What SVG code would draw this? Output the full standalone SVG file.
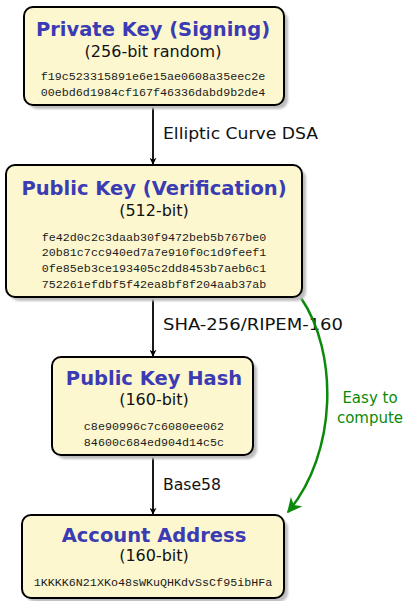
<svg xmlns="http://www.w3.org/2000/svg" width="407" height="601" viewBox="0 0 407 601">
  <style>
    .box { fill: #fdf7cf; stroke: #000; stroke-width: 2; }
    .shadow { fill: #bdbdbd; }
    .title { font-family: "DejaVu Sans", "Liberation Sans", sans-serif; font-weight: bold; font-size: 19.5px; fill: #3b3bb3; text-anchor: middle; }
    .sub { font-family: "DejaVu Sans", "Liberation Sans", sans-serif; font-size: 16px; fill: #111; text-anchor: middle; }
    .hex { font-family: "Liberation Mono", "DejaVu Sans Mono", monospace; font-size: 11.7px; fill: #1a1a1a; text-anchor: middle; }
    .lbl { font-family: "DejaVu Sans", "Liberation Sans", sans-serif; font-size: 16px; fill: #111; }
    .glbl { font-family: "DejaVu Sans", "Liberation Sans", sans-serif; font-size: 15px; fill: #0a8a0a; text-anchor: middle; }
    .edge { stroke: #000; stroke-width: 1.8; fill: none; }
    .green { stroke: #0a8a0a; stroke-width: 2.5; fill: none; }
  </style>
  <defs>
    <filter id="soft" x="-10%" y="-10%" width="120%" height="120%">
      <feGaussianBlur stdDeviation="1"/>
    </filter>
    <marker id="arrow" viewBox="0 0 10 10" refX="9" refY="5" markerWidth="7" markerHeight="7" markerUnits="userSpaceOnUse" orient="auto">
      <path d="M0,0 L10,5 L0,10 L3,5 Z" fill="#000"/>
    </marker>
    <marker id="garrow" viewBox="0 0 10 10" refX="9" refY="5" markerWidth="6" markerHeight="6" orient="auto">
      <path d="M0,0 L10,5 L0,10 L3,5 Z" fill="#0a8a0a"/>
    </marker>
  </defs>

  <g id="connectors">
    <line class="edge" x1="153" y1="105" x2="153" y2="164" marker-end="url(#arrow)"/>
    <text class="lbl" x="163" y="139" textLength="155" lengthAdjust="spacingAndGlyphs">Elliptic Curve DSA</text>
    <line class="edge" x1="153" y1="297" x2="153" y2="356" marker-end="url(#arrow)"/>
    <text class="lbl" x="163" y="330" textLength="180" lengthAdjust="spacingAndGlyphs">SHA-256/RIPEM-160</text>
    <line class="edge" x1="153" y1="455" x2="153" y2="514" marker-end="url(#arrow)"/>
    <text class="lbl" x="163" y="490" textLength="58" lengthAdjust="spacingAndGlyphs">Base58</text>
    <path class="green" d="M301,298 C338,352 338,452 288,512" marker-end="url(#garrow)"/>
    <text class="glbl" x="370" y="403">Easy to</text>
    <text class="glbl" x="370" y="423">compute</text>
  </g>

  <g id="private-key">
    <rect class="shadow" x="28" y="11" width="260" height="98" rx="9" filter="url(#soft)"/>
    <rect class="box" x="24" y="7" width="260" height="98" rx="9"/>
    <text class="title" x="153" y="36">Private Key (Signing)</text>
    <text class="sub" x="153" y="57">(256-bit random)</text>
    <text class="hex" x="153" y="79.5">f19c523315891e6e15ae0608a35eec2e</text>
    <text class="hex" x="153" y="95.5">00ebd6d1984cf167f46336dabd9b2de4</text>
  </g>

  <g id="public-key">
    <rect class="shadow" x="10" y="169" width="296" height="132" rx="9" filter="url(#soft)"/>
    <rect class="box" x="6" y="165" width="296" height="132" rx="9"/>
    <text class="title" x="154" y="195">Public Key (Verification)</text>
    <text class="sub" x="154" y="216">(512-bit)</text>
    <text class="hex" x="154" y="240.5">fe42d0c2c3daab30f9472beb5b767be0</text>
    <text class="hex" x="154" y="256">20b81c7cc940ed7a7e910f0c1d9feef1</text>
    <text class="hex" x="154" y="271.5">0fe85eb3ce193405c2dd8453b7aeb6c1</text>
    <text class="hex" x="154" y="288">752261efdbf5f42ea8bf8f204aab37ab</text>
  </g>

  <g id="public-key-hash">
    <rect class="shadow" x="56" y="361" width="201" height="98" rx="9" filter="url(#soft)"/>
    <rect class="box" x="52" y="357" width="201" height="98" rx="9"/>
    <text class="title" x="154" y="385">Public Key Hash</text>
    <text class="sub" x="154" y="405">(160-bit)</text>
    <text class="hex" x="154" y="430">c8e90996c7c6080ee062</text>
    <text class="hex" x="154" y="446">84600c684ed904d14c5c</text>
  </g>

  <g id="account-address">
    <rect class="shadow" x="26" y="519" width="262" height="83" rx="9" filter="url(#soft)"/>
    <rect class="box" x="22" y="515" width="262" height="83" rx="9"/>
    <text class="title" x="154" y="542">Account Address</text>
    <text class="sub" x="154" y="561">(160-bit)</text>
    <text class="hex" x="153" y="586">1KKKK6N21XKo48sWKuQHKdvSsCf95ibHFa</text>
  </g>
</svg>
